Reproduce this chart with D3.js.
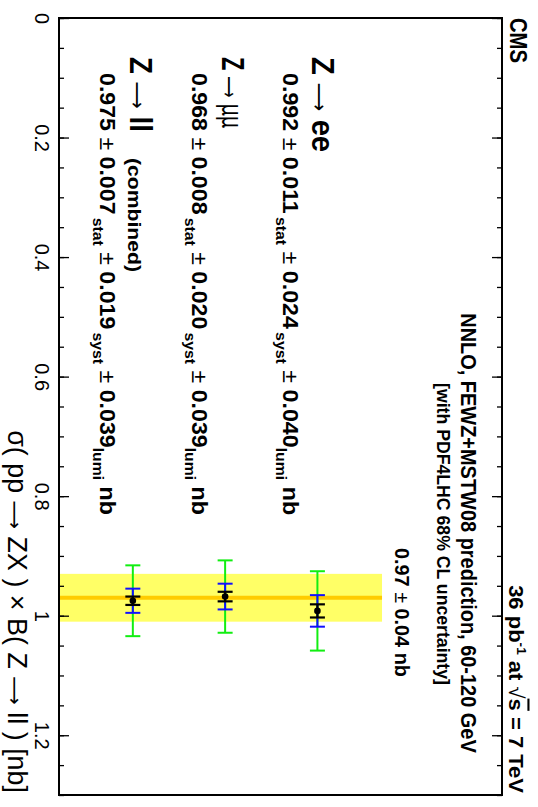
<!DOCTYPE html>
<html>
<head>
<meta charset="utf-8">
<script src="https://cdn.jsdelivr.net/npm/d3@7"></script>
<style>
  html, body { margin: 0; padding: 0; background: #fff; }
  svg { display: block; }
  text { font-family: "Liberation Sans", Arial, Helvetica, sans-serif; fill: #000; }
  .sym { font-family: "DejaVu Sans", sans-serif; font-weight: normal; }
</style>
</head>
<body>
<svg id="chart" width="538" height="807"></svg>
<script>
// Measured Z cross sections (nb) per channel
const channels   = ["ee", "μμ", "ll"];
const rowPos     = [3, 2, 1];
const xsec       = [0.992, 0.968, 0.975];
const statErr    = [0.011, 0.008, 0.007];
const systErr    = [0.024, 0.020, 0.019];
const lumiErr    = [0.040, 0.039, 0.039];

// NNLO theory prediction
const theoryVal  = 0.97;
const theoryErr  = 0.04;

const majorTicks = [0, 0.2, 0.4, 0.6, 0.8, 1.0, 1.2];
const minorTicks = d3.range(0, 1.3001, 0.05).map(v => +v.toFixed(2));

// The figure is laid out landscape (807 x 538) and turned a quarter turn.
const W = 807, H = 538;
const M = { left: 18, right: 795, top: 36, bottom: 479 };

const svg = d3.select("#chart");
const g = svg.append("g").attr("transform", `translate(${H},0) rotate(90)`);

const x = d3.scaleLinear().domain([0, 1.3]).range([M.left, M.right]);
const y = d3.scaleLinear().domain([0.2, 5.0]).range([M.bottom, M.top]);

// Theory band and central value
const bandTop = 3.7;
g.append("rect")
  .attr("x", x(theoryVal - theoryErr))
  .attr("width", x(theoryVal + theoryErr) - x(theoryVal - theoryErr))
  .attr("y", y(bandTop))
  .attr("height", M.bottom - y(bandTop))
  .attr("fill", "#ffff66");
g.append("line")
  .attr("x1", x(theoryVal)).attr("x2", x(theoryVal))
  .attr("y1", y(bandTop)).attr("y2", M.bottom)
  .attr("stroke", "#ffcc00").attr("stroke-width", 4);

// Axes: major and minor ticks on both horizontal edges, pointing inward
const fmtTick = d => d3.format("~g")(d);
const bottomMinor = d3.axisBottom(x).tickValues(minorTicks).tickSize(-5).tickFormat("");
const bottomMajor = d3.axisBottom(x).tickValues(majorTicks).tickSize(-10).tickPadding(10).tickFormat(fmtTick);
const topMinor = d3.axisTop(x).tickValues(minorTicks).tickSize(-5).tickFormat("");
const topMajor = d3.axisTop(x).tickValues(majorTicks).tickSize(-10).tickFormat("");

[[bottomMinor, M.bottom], [bottomMajor, M.bottom], [topMinor, M.top], [topMajor, M.top]].forEach(([ax, pos]) => {
  const a = g.append("g").attr("transform", `translate(0,${pos})`).call(ax);
  a.select(".domain").remove();
  a.selectAll(".tick line").attr("stroke", "#000").attr("stroke-width", 1.3);
  a.selectAll(".tick text")
    .attr("font-family", "Liberation Sans, Arial, sans-serif")
    .attr("font-size", 20).attr("fill", "#000");
});

// Frame
g.append("rect")
  .attr("x", M.left).attr("y", M.top)
  .attr("width", M.right - M.left).attr("height", M.bottom - M.top)
  .attr("fill", "none").attr("stroke", "#000").attr("stroke-width", 2);

// Error bars: stat (black), stat+syst in quadrature (blue), plus luminosity (green)
const rows = channels.map((c, i) => {
  const ss = Math.sqrt(statErr[i] ** 2 + systErr[i] ** 2);
  return { c, pos: rowPos[i], v: xsec[i], stat: statErr[i], ss, tot: ss + lumiErr[i] };
});
const cap = 7.5;
function errBar(key, color, width) {
  const sel = g.append("g").selectAll("g").data(rows).join("g")
    .attr("stroke", color).attr("stroke-width", width);
  sel.append("line")
    .attr("x1", d => x(d.v - d[key])).attr("x2", d => x(d.v + d[key]))
    .attr("y1", d => y(d.pos)).attr("y2", d => y(d.pos));
  sel.append("line")
    .attr("x1", d => x(d.v - d[key])).attr("x2", d => x(d.v - d[key]))
    .attr("y1", d => y(d.pos) - cap).attr("y2", d => y(d.pos) + cap);
  sel.append("line")
    .attr("x1", d => x(d.v + d[key])).attr("x2", d => x(d.v + d[key]))
    .attr("y1", d => y(d.pos) - cap).attr("y2", d => y(d.pos) + cap);
}
errBar("tot", "#11ee11", 2);
errBar("ss", "#1010ff", 2);
errBar("stat", "#000", 2.2);
g.append("g").selectAll("circle").data(rows).join("circle")
  .attr("cx", d => x(d.v)).attr("cy", d => y(d.pos)).attr("r", 3.3).attr("fill", "#000");

// Text helper: builds a label, then squeezes it horizontally to a given width
function label(px, py, anchor, size, weight, width, build) {
  const t = g.append("text")
    .attr("text-anchor", anchor)
    .attr("font-size", size)
    .attr("font-weight", weight);
  build(t);
  const w0 = t.node().getComputedTextLength();
  t.attr("transform", `translate(${px},${py}) scale(${width / w0},1)`);
  return t;
}
const f3 = d3.format(".3f");
const f2 = d3.format(".2f");

label(18, 28, "start", 24, "bold", 45, t => t.text("CMS"));

label(793, 29, "end", 21, "bold", 208, t => {
  t.append("tspan").text("36 pb");
  t.append("tspan").attr("font-size", 13).attr("dy", -8).text("-1");
  t.append("tspan").attr("dy", 8).text(" at  ");
  t.append("tspan").attr("font-weight", "normal").text("√");
  t.append("tspan").style("text-decoration", "overline").text("s");
  t.append("tspan").text(" = 7 TeV");
});

label(533, 77, "middle", 23, "bold", 440, t => t.text("NNLO, FEWZ+MSTW08 prediction, 60-120 GeV"));
label(534, 101, "middle", 18, "bold", 302, t => t.text("[with PDF4LHC 68% CL uncertainty]"));
label(548, 143, "start", 21, "bold", 129, t => {
  t.append("tspan").text(f2(theoryVal));
  t.append("tspan").attr("font-weight", "normal").text(" ± ");
  t.append("tspan").text(f2(theoryErr) + " nb");
});

// Channel headings and measured values
const headY  = [226, 316, 408];
const headW  = [95, 71, 75];
const valY   = [255, 346, 438];
rows.forEach((d, i) => {
  label(57, headY[i], "start", 32, "bold", headW[i], t => {
    t.append("tspan").text("Z ");
    t.append("tspan").attr("class", "sym").attr("font-size", 22).text("⟶");
    if (d.c === "μμ") t.append("tspan").attr("class", "sym").attr("font-size", 28).text(" μμ");
    else t.append("tspan").text(" " + d.c);
  });
  label(73, valY[i], "start", 22, "bold", 436, t => {
    t.append("tspan").text(f3(d.v));
    t.append("tspan").attr("font-weight", "normal").text(" ± ");
    t.append("tspan").text(f3(statErr[i]));
    t.append("tspan").attr("font-size", 15).attr("dx", 3).attr("dy", 7).text("stat");
    t.append("tspan").attr("dy", -7).attr("font-weight", "normal").text(" ± ");
    t.append("tspan").text(f3(systErr[i]));
    t.append("tspan").attr("font-size", 15).attr("dx", 3).attr("dy", 7).text("syst");
    t.append("tspan").attr("dy", -7).attr("font-weight", "normal").text(" ± ");
    t.append("tspan").text(f3(lumiErr[i]));
    t.append("tspan").attr("font-size", 15).attr("dy", 7).text("lumi");
    t.append("tspan").attr("dy", -7).text(" nb");
  });
});
label(158, 410, "start", 19, "bold", 114, t => t.text("(combined)"));

// Axis title
label(793, 530, "end", 27, "normal", 363, t => {
  t.append("tspan").text("σ( pp ");
  t.append("tspan").attr("class", "sym").attr("font-size", 20).text("⟶");
  t.append("tspan").text(" ZX ) × B( Z ");
  t.append("tspan").attr("class", "sym").attr("font-size", 20).text("⟶");
  t.append("tspan").text(" ll )  [nb]");
});
</script>
</body>
</html>
